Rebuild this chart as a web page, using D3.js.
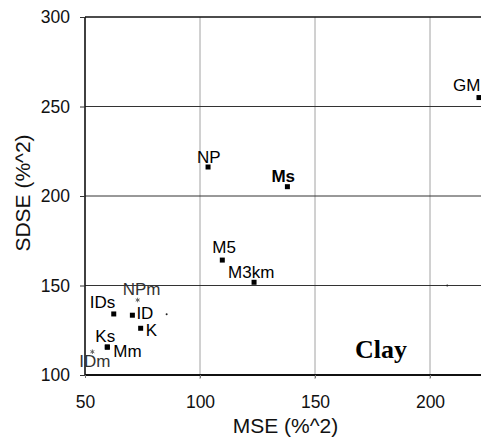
<!DOCTYPE html>
<html>
<head>
<meta charset="utf-8">
<script src="https://cdn.jsdelivr.net/npm/d3@7"></script>
<style>
  body { margin: 0; background: #fff; }
  svg { display: block; font-family: "Liberation Sans", Arial, sans-serif; }
</style>
</head>
<body>
<svg class="canvas" width="481" height="441"></svg>
<script>
// point data
const names = ['NP', 'Ms', 'GM', 'M5', 'M3km', 'IDs', 'ID', 'K', 'NPm', 'Ks', 'Mm', 'IDm'];
const mse = [103.5, 138, 221.3, 109.7, 123.5, 62.5, 70.6, 74.2, 72.9, 59.7, 59.7, 53.2];
const sdse = [216.2, 205.2, 255, 164.2, 151.8, 134.1, 133.4, 126.1, 141.9, 115.6, 115.6, 113];
const markers = ['sq', 'sq', 'sq', 'sq', 'sq', 'sq', 'sq', 'sq', 'ast', 'sq', 'sq', 'ast'];
// label offsets (text start) relative to the point
const labelDx = [-11, -16, -26, -10, -26, -24, 4, 5, -15, -12, 6, -13];
const labelDy = [-4, -5, -7, -7, -4, -6, 4, 8, -5, -5, 10, 15];
// stray unlabeled dots
const dotX = [85.5, 207.5];
const dotY = [134, 150];

const xTicks = [50, 100, 150, 200];
const yTicks = [100, 150, 200, 250, 300];

const svg = d3.select('.canvas');

const xScale = d3.scaleLinear().domain([50, 250]).range([85, 545]);
const yScale = d3.scaleLinear().domain([100, 300]).range([375, 17]);

// vertical grid lines
svg.append('g')
  .selectAll('line')
  .data(xTicks.slice(1))
  .enter()
  .append('line')
  .attr('x1', (d) => xScale(d))
  .attr('x2', (d) => xScale(d))
  .attr('y1', yScale(300))
  .attr('y2', yScale(100) + 4)
  .attr('stroke', '#8a8a8a')
  .attr('stroke-width', 0.8);

// horizontal grid lines
svg.append('g')
  .selectAll('line')
  .data(yTicks.slice(1, -1))
  .enter()
  .append('line')
  .attr('x1', xScale(50))
  .attr('x2', 481)
  .attr('y1', (d) => yScale(d))
  .attr('y2', (d) => yScale(d))
  .attr('stroke', '#333')
  .attr('stroke-width', 1);

// frame: top, bottom, left
svg.append('line')
  .attr('x1', xScale(50)).attr('x2', 481)
  .attr('y1', yScale(300)).attr('y2', yScale(300))
  .attr('stroke', '#111').attr('stroke-width', 1.6);
svg.append('line')
  .attr('x1', xScale(50)).attr('x2', 481)
  .attr('y1', yScale(100)).attr('y2', yScale(100))
  .attr('stroke', '#111').attr('stroke-width', 1.8);
svg.append('line')
  .attr('x1', xScale(50)).attr('x2', xScale(50))
  .attr('y1', yScale(300)).attr('y2', yScale(100))
  .attr('stroke', '#111').attr('stroke-width', 1.6);

// axes (ticks + labels only)
const xAxis = d3.axisBottom(xScale).tickValues(xTicks).tickSize(3).tickPadding(18);
const yAxis = d3.axisLeft(yScale).tickValues(yTicks).tickSize(5).tickPadding(10);
svg.append('g')
  .attr('transform', `translate(0, ${yScale(100)})`)
  .call(xAxis)
  .call((g) => g.select('.domain').remove())
  .call((g) => g.selectAll('line').attr('stroke', '#777'))
  .call((g) => g.selectAll('text').attr('font-size', 17.5).attr('fill', '#111'));
svg.append('g')
  .attr('transform', `translate(${xScale(50)}, 0)`)
  .call(yAxis)
  .call((g) => g.select('.domain').remove())
  .call((g) => g.selectAll('line').attr('stroke', '#333'))
  .call((g) => g.selectAll('text').attr('font-size', 17.5).attr('fill', '#111'));
svg.selectAll('.tick text').attr('font-family', '"Liberation Sans", Arial, sans-serif');

// axis titles
svg.append('text')
  .attr('x', 285.5)
  .attr('y', 433)
  .attr('text-anchor', 'middle')
  .attr('font-size', 21)
  .attr('fill', '#111')
  .text('MSE (%^2)');
svg.append('text')
  .attr('transform', 'translate(30, 193) rotate(-90)')
  .attr('text-anchor', 'middle')
  .attr('font-size', 21)
  .attr('fill', '#111')
  .text('SDSE (%^2)');

// stray dots
svg.append('g')
  .selectAll('circle')
  .data(dotX)
  .enter()
  .append('circle')
  .attr('cx', (d) => xScale(d))
  .attr('cy', (d, i) => yScale(dotY[i]))
  .attr('r', 1)
  .attr('fill', '#222');

// points
const pts = names.map((n, i) => ({ n, x: mse[i], y: sdse[i], m: markers[i], dx: labelDx[i], dy: labelDy[i] }));
const g = svg.append('g');
g.selectAll('rect')
  .data(pts.filter((d) => d.m === 'sq'))
  .enter()
  .append('rect')
  .attr('x', (d) => xScale(d.x) - 2.5)
  .attr('y', (d) => yScale(d.y) - 2.5)
  .attr('width', 5)
  .attr('height', 5)
  .attr('fill', '#000');
g.selectAll('path')
  .data(pts.filter((d) => d.m === 'ast'))
  .enter()
  .append('path')
  .attr('transform', (d) => `translate(${xScale(d.x)}, ${yScale(d.y)})`)
  .attr('d', d3.symbol(d3.symbolAsterisk, 14))
  .attr('stroke', '#555')
  .attr('stroke-width', 0.9)
  .attr('fill', 'none');

g.selectAll('text')
  .data(pts)
  .enter()
  .append('text')
  .attr('x', (d) => xScale(d.x) + d.dx)
  .attr('y', (d) => yScale(d.y) + d.dy)
  .attr('font-size', 17)
  .attr('font-weight', (d) => (d.n === 'Ms' ? 'bold' : 'normal'))
  .attr('fill', (d) => (d.m === 'ast' ? '#333' : '#000'))
  .text((d) => d.n);

// panel label
svg.append('text')
  .attr('x', 355)
  .attr('y', 358)
  .attr('font-family', '"Liberation Serif", "Times New Roman", serif')
  .attr('font-weight', 'bold')
  .attr('font-size', 26)
  .attr('fill', '#000')
  .text('Clay');
</script>
</body>
</html>
